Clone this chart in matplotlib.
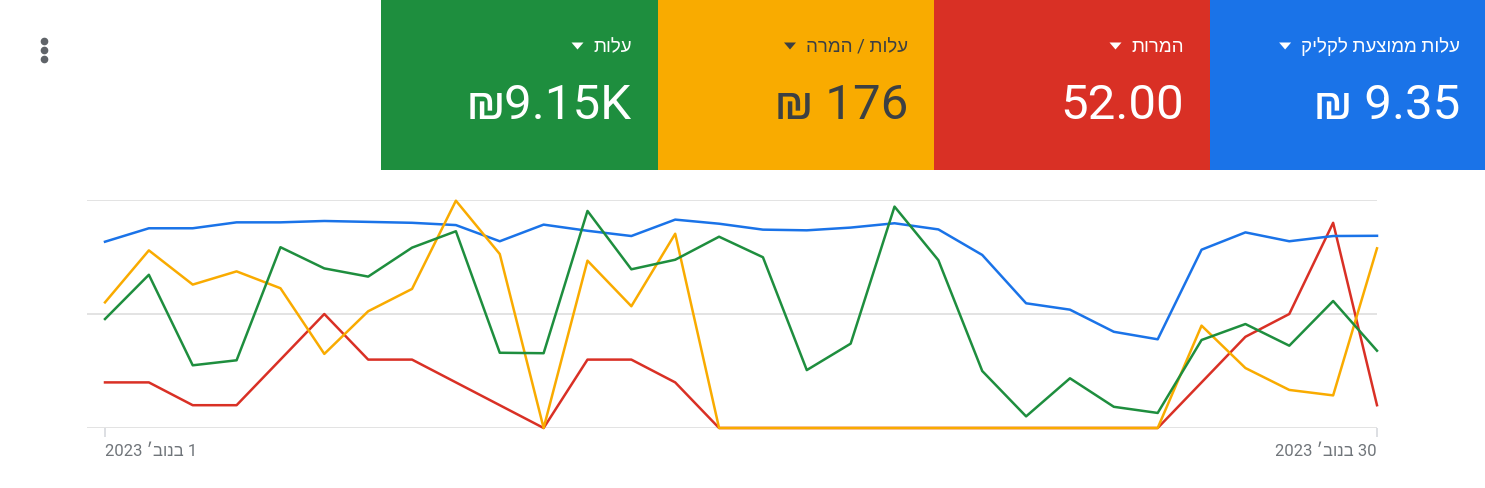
import matplotlib

matplotlib.use("Agg")
import matplotlib.pyplot as plt
from matplotlib.patches import Rectangle, Polygon

FONT = ["Roboto", "Liberation Sans", "DejaVu Sans"]
plt.rcParams["font.family"] = FONT

# days of Nov 2023
days = list(range(1, 31))

# series (blue / orange / green as % of axis height, red = conversions)
avg_cpc = [81.7, 87.6, 87.6, 90.2, 90.2, 90.8, 90.4, 90.0, 89.0, 81.9,
           89.2, 86.5, 84.2, 91.4, 89.6, 87.0, 86.7, 87.9, 89.8, 87.1,
           75.9, 54.7, 51.9, 42.2, 38.9, 78.2, 85.8, 81.9, 84.2, 84.3]
conversions = [2, 2, 1, 1, 3, 5, 3, 3, 2, 1,
               0, 3, 3, 2, 0, 0, 0, 0, 0, 0,
               0, 0, 0, 0, 0, 2, 4, 5, 9, 1]
cost_per_conv = [55.1, 77.9, 62.9, 68.7, 61.3, 32.5, 51.2, 61.0, 99.7, 76.3,
                 0, 73.4, 53.4, 85.2, 0, 0, 0, 0, 0, 0,
                 0, 0, 0, 0, 0, 44.9, 26.3, 16.7, 14.3, 78.8]
cost = [47.8, 67.2, 27.5, 29.7, 79.3, 70.0, 66.4, 79.1, 86.3, 33.0,
        32.8, 95.2, 69.6, 73.8, 83.9, 74.9, 25.4, 37.0, 97.1, 73.6,
        25.0, 5.1, 21.8, 9.3, 6.6, 38.6, 45.6, 36.1, 55.7, 33.9]

# score cards, right to left
tile_labels = ["עלות ממוצעת לקליק", "המרות", "עלות / המרה", "עלות"]
tile_values = ["₪ 9.35", "52.00", "₪ 176", "₪9.15K"]
tile_colors = ["#1a73e8", "#d93025", "#f9ab00", "#1e8e3e"]
tile_text_colors = ["white", "white", "#3c4043", "white"]
date_labels = ["1 בנוב׳ 2023", "30 בנוב׳ 2023"]


def rtl(s):
    # no bidi in matplotlib: put words in visual order, flip the hebrew ones
    words = s.split(" ")
    out = []
    for w in reversed(words):
        if any("\u0590" <= c <= "\u05ff" for c in w):
            out.append(w[::-1])
        else:
            out.append(w)
    return " ".join(out)


W, H = 1485, 489
fig = plt.figure(figsize=(W / 100, H / 100), dpi=100)
fig.patch.set_facecolor("white")

deco = fig.add_axes([0, 0, 1, 1])
deco.set_xlim(0, W)
deco.set_ylim(H, 0)
deco.axis("off")

tile_w = 276
label_texts = []
for i in range(len(tile_labels)):
    x0 = W - (i + 1) * tile_w
    deco.add_patch(Rectangle((x0, 0), tile_w + 1, 171, color=tile_colors[i], lw=0))
    t = deco.text(x0 + tile_w - 25, 47, rtl(tile_labels[i]), ha="right", va="center",
                  fontsize=13.5, color=tile_text_colors[i])
    label_texts.append(t)
    deco.text(x0 + tile_w - 25, 106, tile_values[i], ha="right", va="center",
              fontsize=35.5, color=tile_text_colors[i])

# kebab menu
deco.plot([44, 44, 44], [42, 51, 60], "o", ms=4.5, color="#5f6368")

# chart
ax2 = fig.add_axes([87 / W, 1 - 429 / H, 1290 / W, 228 / H])
ax = ax2.twinx()
ax.set_zorder(ax2.get_zorder() + 1)
ax.patch.set_visible(False)

lw = 1.8
ax2.plot(days, conversions, color="#d93025", lw=lw, clip_on=False)
ax.plot(days, avg_cpc, color="#1a73e8", lw=lw, clip_on=False)
ax.plot(days, cost_per_conv, color="#f9ab00", lw=lw, clip_on=False)
ax.plot(days, cost, color="#1e8e3e", lw=lw, clip_on=False)

ax2.set_ylim(0, 10)
ax.set_ylim(0, 100)
ax2.set_xlim(days[0] - 18 / 43.86, days[-1])
ax2.set_yticks([0, 5, 10])
ax2.grid(axis="y", color="#e0e0e0", lw=1.3)
ax2.tick_params(axis="y", length=0, labelleft=False)
ax.tick_params(axis="y", length=0, labelright=False)
for a in (ax, ax2):
    for s in a.spines.values():
        s.set_visible(False)

ax2.set_xticks([days[0], days[-1]])
ax2.set_xticklabels([rtl(d) for d in date_labels])
ax2.tick_params(axis="x", length=6.5, width=1.3, color="#dadce0",
                labelcolor="#70757a", labelsize=12, pad=4)
xt = ax2.get_xticklabels()
xt[0].set_ha("left")
xt[-1].set_ha("right")

# dropdown arrows left of each card label
fig.canvas.draw()
renderer = fig.canvas.get_renderer()
for i, t in enumerate(label_texts):
    bb = t.get_window_extent(renderer)
    lx = bb.x0
    yc = H - (bb.y0 + bb.y1) / 2
    deco.add_patch(Polygon([(lx - 22, yc - 3.5), (lx - 10, yc - 3.5), (lx - 16, yc + 3.5)],
                           closed=True, color=tile_text_colors[i], lw=0))

fig.savefig("out.png", dpi=100)
